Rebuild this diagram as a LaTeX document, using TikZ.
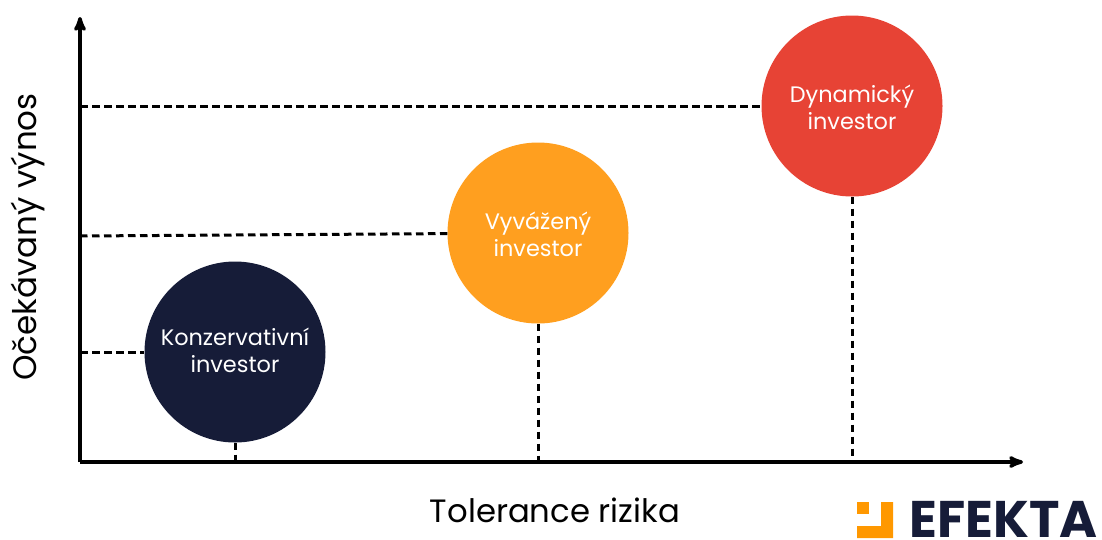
\documentclass[tikz,border=0pt]{standalone}
\usepackage{fontspec}
\setmainfont{Poppins}
\usetikzlibrary{arrows}
\definecolor{tmava}{HTML}{161C38}
\definecolor{oranzova}{HTML}{FF9F1F}
\definecolor{cervena}{HTML}{E74335}
\definecolor{logooranz}{HTML}{FF9800}
\tikzset{
  investor/.style={circle,minimum size=181pt,inner sep=0pt,text=white,align=center,font=\fontsize{22.4}{27}\selectfont},
  vodici/.style={line width=3pt,dash pattern=on 7.5pt off 4.5pt},
  osa/.style={->,>=stealth',line width=3.4pt}
}
\begin{document}
\begin{tikzpicture}[x=1pt,y=-1pt]
            \useasboundingbox (0,0) rectangle (1102,539);
            %assi
            \coordinate (pocatek) at (80,462);
            \coordinate (osax) at (1023,462);
            \coordinate (osay) at (80,17);
            \draw[osa] (pocatek) -- (osax);
            \draw[osa] (pocatek) -- (osay);
            \node[font=\fontsize{32.3}{36}\selectfont] (tolerance) at (555,510) {Tolerance rizika};
            \node[font=\fontsize{32.5}{36}\selectfont,rotate=90] (vynos) at (27.5,237) {Očekávaný výnos};
            %kruhy
            \node[investor,fill=tmava] (konz) at (235,352) {\vphantom{Ďý}Konzervativní\\investor\rule[-6pt]{0pt}{6pt}};
            \node[investor,fill=oranzova] (vyv) at (538,233) {\vphantom{Ďý}Vyvážený\\investor};
            \node[investor,fill=cervena] (dyn) at (852,106) {\vphantom{Ďý}Dynamický\\investor};
            %vodici cary
            \coordinate (konzy) at (80,352);
            \coordinate (vyvy) at (80,236);
            \coordinate (dyny) at (80,106);
            \coordinate (konzx) at (235,462);
            \coordinate (vyvx) at (538,462);
            \coordinate (dynx) at (852,462);
            \draw[vodici] (konzy) -- (konz);
            \draw[vodici] (vyvy) -- (vyv);
            \draw[vodici] (dyny) -- (dyn);
            \draw[vodici] (konz) -- (konzx);
            \draw[vodici] (vyv) -- (vyvx);
            \draw[vodici] (dyn) -- (dynx);
            %logo
            \fill[logooranz] (857,502) rectangle (869,514);
            \fill[logooranz] (881,502) -- (893,502) -- (893,538) -- (857,538) -- (857,526) -- (881,526) -- cycle;
            \node[font=\fontsize{51.5}{52}\selectfont\bfseries,text=tmava,anchor=base west,inner sep=0pt] (efekta) at (909.5,537) {EFEKTA};
        \end{tikzpicture}
\end{document}
